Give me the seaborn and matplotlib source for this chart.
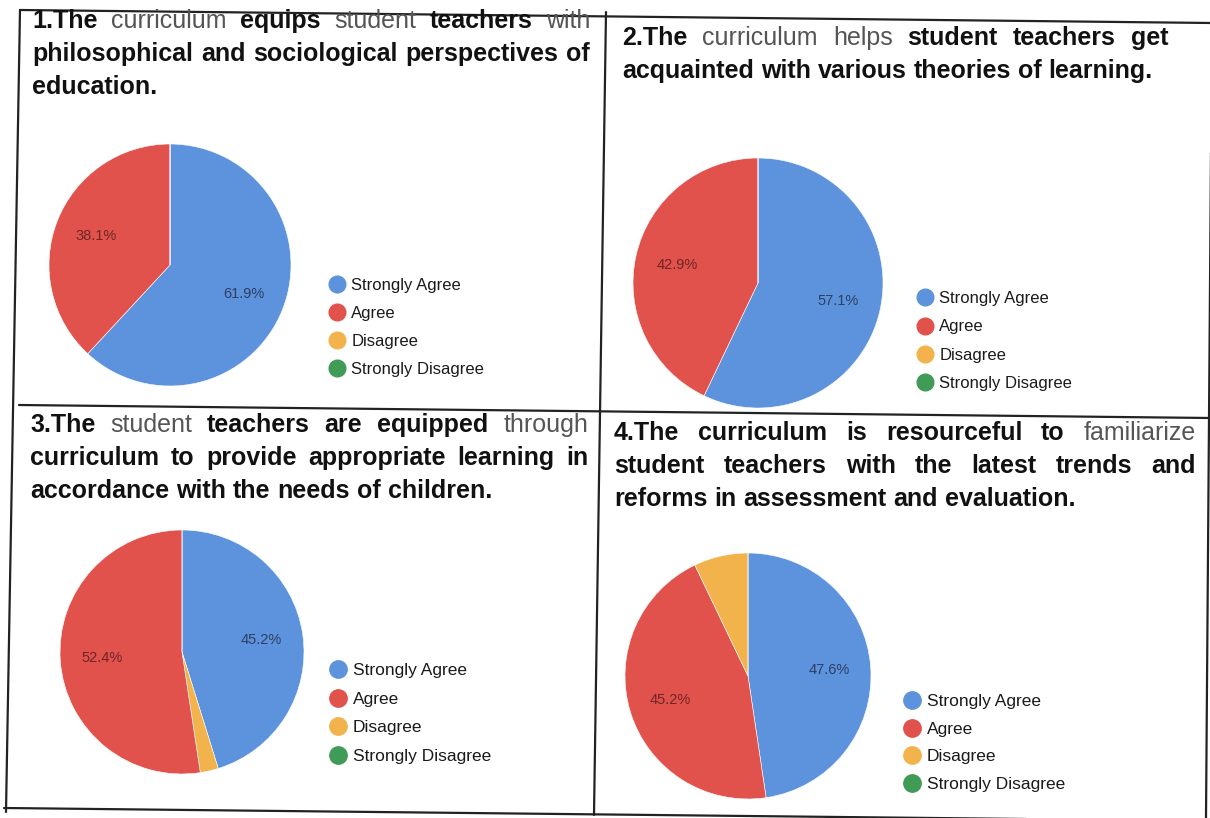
import matplotlib
matplotlib.use("Agg")
import matplotlib.pyplot as plt
import seaborn as sns
from matplotlib.lines import Line2D

# Survey answers, percent of respondents
categories = ["Strongly Agree", "Agree", "Disagree", "Strongly Disagree"]
q1_values = [61.9, 38.1, 0.0, 0.0]
q2_values = [57.1, 42.9, 0.0, 0.0]
q3_values = [45.2, 52.4, 2.4, 0.0]
q4_values = [47.6, 45.2, 7.1, 0.0]

# order in which the slices run clockwise from 12 o'clock
q1_order = [0, 1, 2, 3]
q2_order = [0, 1, 2, 3]
q3_order = [0, 2, 1, 3]
q4_order = [0, 1, 2, 3]

# question texts, one string per printed line; "~" marks the greyed words
q1_title = ["1.The ~curriculum equips ~student teachers ~with",
            "philosophical and sociological perspectives of",
            "education."]
q2_title = ["2.The ~curriculum ~helps student teachers get",
            "acquainted with various theories of learning."]
q3_title = ["3.The ~student teachers are equipped ~through",
            "curriculum to provide appropriate learning in",
            "accordance with the needs of children."]
q4_title = ["4.The curriculum is resourceful to ~familiarize",
            "student teachers with the latest trends and",
            "reforms in assessment and evaluation."]

W, H = 1210, 818

sns.set_theme(style="white")
plt.rcParams["font.family"] = ["Liberation Sans", "DejaVu Sans"]
colors = sns.color_palette(["#5c93dc", "#e2524c", "#f2b24c", "#3f9b55"])
label_colors = ["#2f3f66", "#6e2626", "#6e5020", "#1f4f2a"]

fig = plt.figure(figsize=(W / 100, H / 100), dpi=100)
fig.patch.set_facecolor("white")
renderer = fig.canvas.get_renderer()


def fx(px):
    return px / W


def fy(py):
    return 1 - py / H


def put_title(lines, x0, x1, y0, step, size=18.0):
    rows = []
    for i, line in enumerate(lines):
        items = []
        for w in line.split():
            grey = w.startswith("~")
            w = w.lstrip("~")
            t = fig.text(0, fy(y0 + i * step), w, fontsize=size,
                         fontweight="normal" if grey else "bold",
                         color="#555555" if grey else "#111111",
                         va="center", ha="left")
            items.append(t)
        rows.append(items)
    # shrink the type if a justified line would not fit
    need = 0
    for items in rows[:-1]:
        ws = sum(t.get_window_extent(renderer).width for t in items)
        need = max(need, (ws + 7 * (len(items) - 1)) / (x1 - x0))
    if need > 1:
        for items in rows:
            for t in items:
                t.set_fontsize(size / need)
    for i, items in enumerate(rows):
        widths = [t.get_window_extent(renderer).width for t in items]
        if i == len(rows) - 1 or len(items) < 2:
            gap = 0.28 * items[0].get_fontsize() * 100 / 72
        else:
            gap = (x1 - x0 - sum(widths)) / (len(items) - 1)
        x = x0
        for t, wpx in zip(items, widths):
            t.set_x(fx(x))
            x += wpx + gap


def put_pie(values, order, cx, cy, r, lx, ly, lstep, fs):
    ax = fig.add_axes([fx(cx - r), fy(cy + r), fx(2 * r), 2 * r / H])
    vals = [values[k] for k in order]
    cols = [colors[k] for k in order]
    wedges, texts, pcts = ax.pie(
        vals, colors=cols, startangle=90, counterclock=False,
        autopct=lambda p: f"{p:.1f}%" if p > 10 else "",
        pctdistance=0.66,
        wedgeprops=dict(edgecolor="white", linewidth=0.4),
        textprops=dict(fontsize=10.5))
    for k, t in zip(order, pcts):
        t.set_color(label_colors[k])
    ax.set_xlim(-1, 1)
    ax.set_ylim(-1, 1)
    ax.set_aspect("equal")
    ax.axis("off")

    handles = [Line2D([], [], marker="o", ls="", markersize=fs,
                      markerfacecolor=c, markeredgecolor=c) for c in colors]
    fs_px = fs * 100 / 72
    fig.legend(handles, categories, loc="center left",
               bbox_to_anchor=(fx(lx - 0.5 * fs_px), fy(ly + 1.5 * lstep)),
               frameon=False, fontsize=fs, handlelength=1.0,
               handletextpad=0.35, borderpad=0, borderaxespad=0,
               labelspacing=(lstep - fs_px) / fs_px, labelcolor="#1a1a1a")


put_title(q1_title, 32, 590, 21, 33)
put_title(q2_title, 622, 1168, 38, 33)
put_title(q3_title, 30, 588, 425, 33)
put_title(q4_title, 614, 1196, 433, 33)

put_pie(q1_values, q1_order, 170, 265, 121, 337, 283, 29.5, 12)
put_pie(q2_values, q2_order, 758, 283, 125, 925, 296, 30, 12)
put_pie(q3_values, q3_order, 182, 652, 122, 338, 667, 31, 12.5)
put_pie(q4_values, q4_order, 748, 676, 123, 912, 698, 30, 12.5)

# table grid of the scanned page (slightly tilted)
grid = [
    ((20, 10), (1212, 23)),
    ((20, 10), (6, 812)),
    ((4, 808), (1212, 821)),
    ((1212, 20), (1206, 818)),
    ((606, 12), (594, 815)),
    ((19, 405), (1210, 418)),
]
for (x0, y0), (x1, y1) in grid:
    fig.add_artist(Line2D([fx(x0), fx(x1)], [fy(y0), fy(y1)],
                          color="#222222", linewidth=1.6))

fig.savefig("out.png", dpi=100)
